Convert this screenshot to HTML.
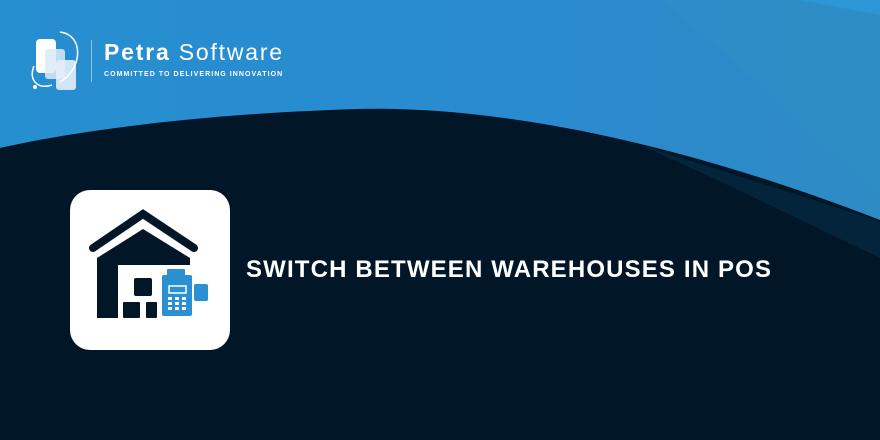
<!DOCTYPE html>
<html><head><meta charset="utf-8"><style>
html,body{margin:0;padding:0}
body{width:880px;height:440px;overflow:hidden;position:relative;background:#011627;font-family:"Liberation Sans",sans-serif}
svg{position:absolute;left:0;top:0}
.t{position:absolute;left:246px;top:256px;color:#fff;font-weight:bold;font-size:24px;letter-spacing:1.15px;white-space:nowrap}
.logo1{position:absolute;left:104px;top:39px;color:#fff;font-size:23px;letter-spacing:1.8px}
.logo2{position:absolute;left:104px;top:71px;color:#fff;font-size:7px;font-weight:bold;letter-spacing:1.05px}
</style></head><body>
<svg width="880" height="440" viewBox="0 0 880 440">
<defs><linearGradient id="g" x1="0" y1="0" x2="1" y2="0"><stop offset="0" stop-color="#268fd0"/><stop offset="0.6" stop-color="#2a8ad0"/><stop offset="1" stop-color="#2f8bc4"/></linearGradient></defs>
<rect width="880" height="440" fill="#011627"/>
<path d="M0,0 H880 V220 C700,150 500,100 330,110 C200,115 80,130 0,148 Z" fill="url(#g)"/>
<path d="M640,145 C720,170 800,195 880,222 V258 C800,220 720,180 640,145 Z" fill="#03243a"/>
<path d="M660,0 C760,80 840,160 880,200 V0 Z" fill="#2f8fc6" opacity="0.5"/>
<path d="M800,0 L880,15 V0 Z" fill="#2b97d6"/>
<g fill="#fff">
<rect x="36" y="39" width="20" height="34" rx="4"/>
<rect x="45" y="49" width="20" height="30" rx="3" fill="#dbeaf6" opacity="0.85"/>
<rect x="56" y="60" width="20" height="30" rx="3" fill="#e3eef8" opacity="0.9"/>
</g>
<path d="M60,32 C85,35 82,70 60,82" stroke="#fff" stroke-width="1.5" fill="none"/>
<path d="M34,66 C28,80 38,90 52,85" stroke="#fff" stroke-width="1.5" fill="none"/>
<circle cx="35" cy="87" r="2" fill="#fff"/>
<rect x="91" y="40" width="1" height="42" fill="#8cc3ea"/>
<rect x="70" y="190" width="160" height="160" rx="20" fill="#fff"/>
<path d="M93,248 L143,214 L194,248" stroke="#011627" stroke-width="8" fill="none" stroke-linecap="round" stroke-linejoin="miter"/>
<path d="M97,258 L143,229 L190,258 V265 H118 V318 H97 Z" fill="#011627"/>
<rect x="134" y="278" width="18" height="18" rx="2" fill="#011627"/>
<rect x="123" y="302" width="17" height="16" rx="1" fill="#011627"/>
<rect x="146" y="302" width="11" height="16" rx="1" fill="#011627"/>
<rect x="160" y="274" width="32" height="43" rx="2" fill="#fff"/>
<rect x="162" y="275" width="30" height="41" rx="2" fill="#2a8fd3"/>
<rect x="167" y="269" width="18" height="10" rx="1" fill="#2a8fd3"/>
<rect x="169" y="286" width="17" height="7" fill="none" stroke="#fff" stroke-width="1.5"/>
<g fill="#fff">
<rect x="168" y="297" width="4" height="3"/><rect x="175" y="297" width="4" height="3"/><rect x="182" y="297" width="4" height="3"/>
<rect x="168" y="302" width="4" height="3"/><rect x="175" y="302" width="4" height="3"/><rect x="182" y="302" width="4" height="3"/>
<rect x="168" y="307" width="4" height="3"/><rect x="175" y="307" width="4" height="3"/><rect x="182" y="307" width="4" height="3"/>
</g>
<rect x="194" y="284" width="14" height="17" rx="2" fill="#2a8fd3"/>
</svg>
<div class="logo1"><b>Petra</b> Software</div>
<div class="logo2">COMMITTED TO DELIVERING INNOVATION</div>
<div class="t">SWITCH BETWEEN WAREHOUSES IN POS</div>
</body></html>
